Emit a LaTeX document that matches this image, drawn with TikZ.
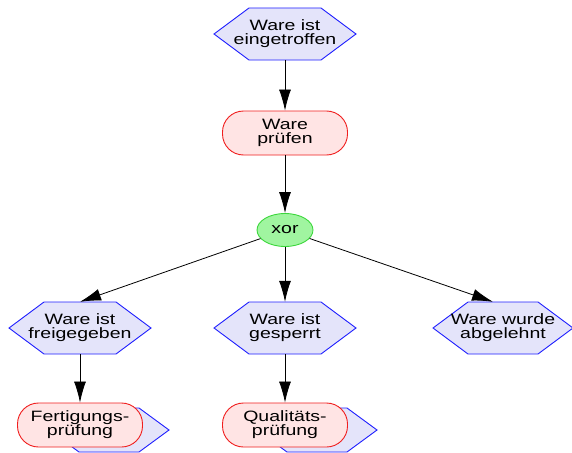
\documentclass[tikz,border=0pt]{standalone}
\usepackage{fontspec}
\setmainfont{Liberation Sans}[FakeStretch=1.3]
\usetikzlibrary{shapes.geometric,arrows.meta,calc}
\definecolor{evfill}{RGB}{228,228,250}
\definecolor{evline}{RGB}{30,30,255}
\definecolor{fnfill}{RGB}{255,228,228}
\definecolor{fnline}{RGB}{240,30,30}
\definecolor{xorfill}{RGB}{160,245,160}
\definecolor{xorline}{RGB}{60,215,60}
% center, half width, half height, half width of flat edge
\newcommand\hexpath[4]{%
  \filldraw[hexline] ($(#1)+(-#2,0)$) -- ($(#1)+(-#4,-#3)$) -- ($(#1)+(#4,-#3)$) --
    ($(#1)+(#2,0)$) -- ($(#1)+(#4,#3)$) -- ($(#1)+(-#4,#3)$) -- cycle;}
\begin{document}
\begin{tikzpicture}[x=1pt,y=-1pt,
  txt/.style={font=\fontsize{15}{14}\selectfont, align=center, inner sep=0pt},
  hexline/.style={draw=evline, fill=evfill, line width=0.9pt},
  evt/.style={txt, minimum width=142pt, minimum height=52pt},
  evtsmall/.style={inner sep=0pt, minimum width=120pt, minimum height=44pt},
  func/.style={txt, draw=fnline, fill=fnfill, line width=0.9pt, rounded corners=21pt,
    minimum width=125pt, minimum height=44pt},
  xorgate/.style={txt, ellipse, draw=xorline, fill=xorfill, line width=0.9pt,
    minimum width=56pt, minimum height=33pt},
  conn/.style={draw=black, line width=0.8pt, -{Latex[length=21pt,width=12pt]}}]
\useasboundingbox (0,0) rectangle (572,452);

\hexpath{285,34}{71}{26}{36}
\node[evt] (e1) at (285,34) {Ware ist\\eingetroffen};

\node[func] (f1) at (285,133) {Ware\\prüfen};

\node[xorgate] (x) at (285,230) {xor};

\hexpath{80,328}{71}{26}{36}
\node[evt] (e2) at (80,328) {Ware ist\\freigegeben};
\hexpath{285,328}{71}{26}{36}
\node[evt] (e3) at (285,328) {Ware ist\\gesperrt};
\hexpath{503,328}{70}{26}{35}
\node[evt] (e4) at (503,328) {Ware wurde\\abgelehnt};

\hexpath{109,430}{60}{22}{30}
\node[evtsmall] (e5) at (109,430) {};
\hexpath{317,430}{60}{22}{30}
\node[evtsmall] (e6) at (317,430) {};

\node[func] (f2) at (80,425) {Fertigungs-\\prüfung};
\node[func] (f3) at (285,425) {Qualitäts-\\prüfung};

\draw[conn] (e1) -- (f1);
\draw[conn] (f1) -- (x);
\draw[conn] (x) -- (e2.north);
\draw[conn] (x) -- (e3.north);
\draw[conn] (x) -- ($(e4.north)+(-10,0)$);
\draw[conn] (e2) -- (f2);
\draw[conn] (e3) -- (f3);
\end{tikzpicture}
\end{document}
